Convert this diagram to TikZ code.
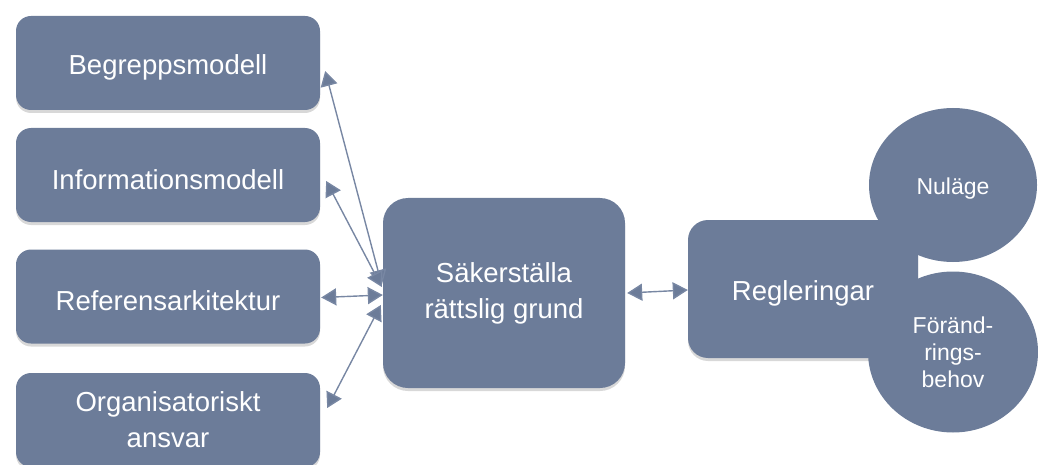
\documentclass[tikz,border=0pt]{standalone}
\usepackage{fontspec}
\setmainfont{Liberation Sans}
\usetikzlibrary{arrows.meta,shadows,shapes.geometric}
\definecolor{boxfill}{RGB}{108,124,153}
\definecolor{linkcol}{RGB}{120,135,163}
\begin{document}
\begin{tikzpicture}[x=1pt,y=-1pt,
  card/.style={draw=none, fill=boxfill, text=white, align=center,
    font=\fontsize{27.5}{36}\selectfont, inner sep=0pt,
    execute at begin node={\rule{0pt}{29pt}},
    drop shadow={shadow xshift=0pt, shadow yshift=-3pt, opacity=0.22, fill=black!70}},
  leftcard/.style={card, rounded corners=15pt, minimum width=304pt, minimum height=94pt},
  bubble/.style={ellipse, draw=none, fill=boxfill, text=white, align=center,
    font=\fontsize{23}{27}\selectfont, inner sep=0pt,
    execute at begin node={\rule{0pt}{24pt}}},
  tip/.tip={Triangle[length=15pt,width=17pt,fill=boxfill]},
  link/.style={draw=linkcol, line width=1.4pt, tip-tip}
]
\clip (0,0) rectangle (1038,465);

% left column of topics
\node[leftcard] (b1) at (168,63)    {Begreppsmodell};
\node[leftcard] (b2) at (168,175)   {Informationsmodell};
\node[leftcard] (b3) at (168,296.5) {Referensarkitektur};
\node[leftcard] (b4) at (168,420)   {Organisatoriskt\\ansvar};

% central goal
\node[card, rounded corners=25pt, minimum width=242pt, minimum height=190pt]
  (c) at (504,293) {Säkerställa\\rättslig grund};

% regulations with its two aspects
\node[card, rounded corners=20pt, minimum width=230pt, minimum height=138pt]
  (r) at (803,289) {Regleringar};
\node[bubble, minimum width=168pt, minimum height=154pt] (n1) at (953,185) {Nuläge};
\node[bubble, minimum width=170pt, minimum height=161pt] (n2) at (953,352) {Föränd-\\rings-\\behov};

% connectors
\draw[link] ([xshift=-1pt,yshift=8pt]c.west)  -- ([xshift=5pt,yshift=-8pt]b1.east);
\draw[link] ([xshift=-1pt,yshift=6pt]c.west)  -- ([xshift=6pt,yshift=-6pt]b2.east);
\draw[link] ([yshift=-2pt]c.west)             -- ([xshift=1pt,yshift=-1pt]b3.east);
\draw[link] ([xshift=-2pt,yshift=-12pt]c.west) -- ([xshift=7pt,yshift=12pt]b4.east);
\draw[link] ([xshift=2pt]c.east) -- ([yshift=-1pt]r.west);
\end{tikzpicture}
\end{document}
